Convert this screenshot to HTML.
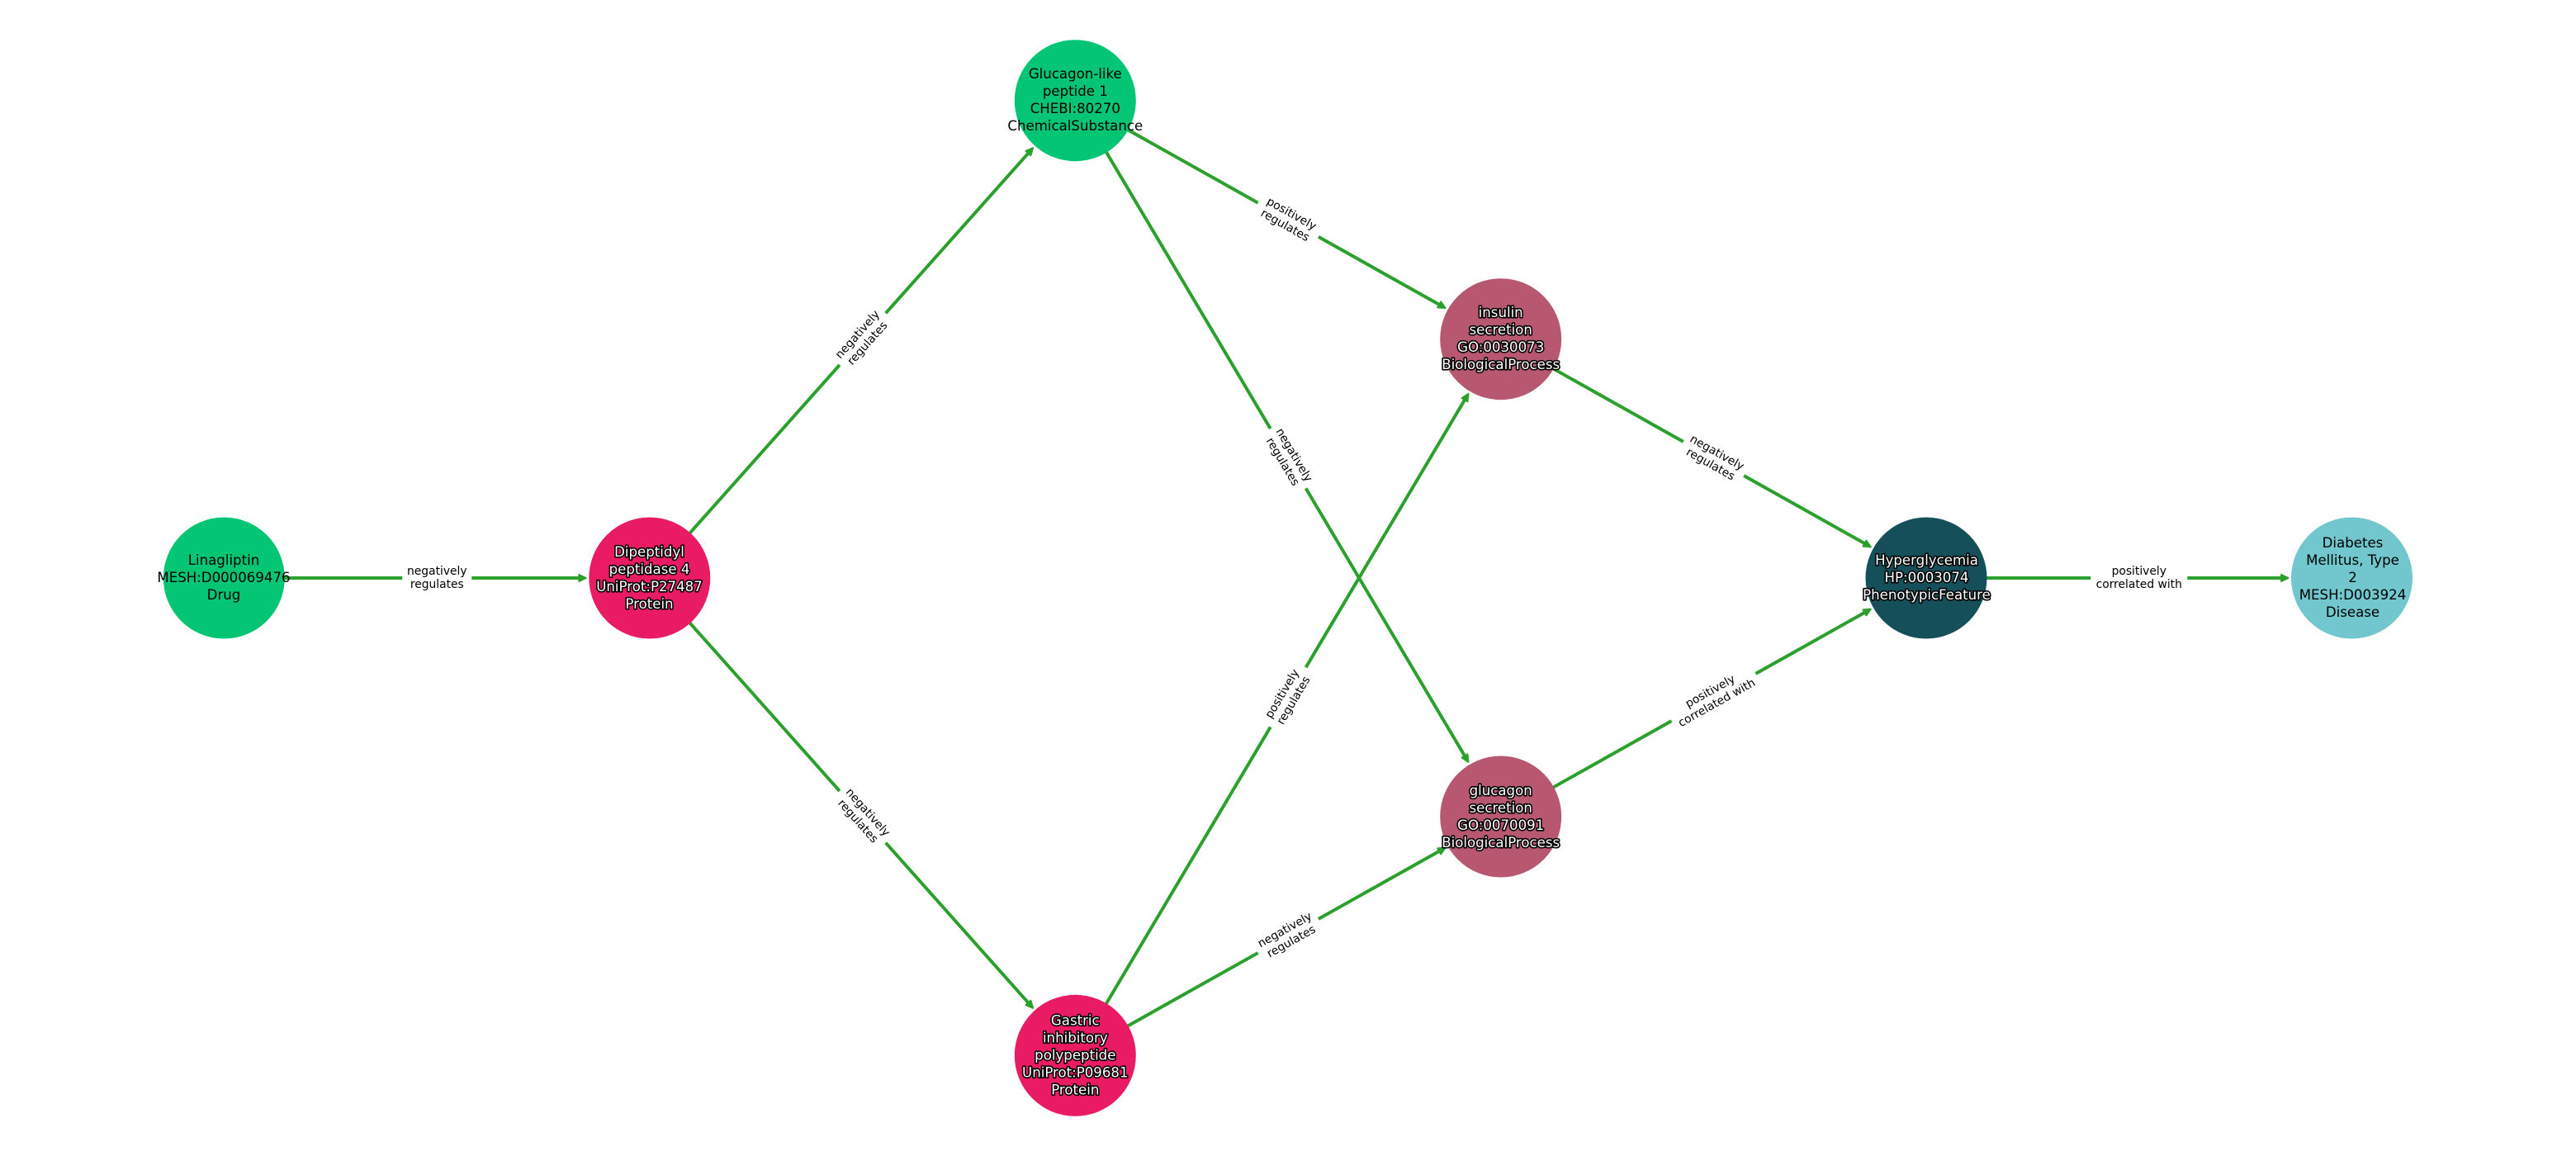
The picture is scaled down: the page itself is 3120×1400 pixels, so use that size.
<!DOCTYPE html>
<html><head><meta charset="utf-8"><title>Linagliptin pathway</title>
<style>
html,body{margin:0;padding:0;background:#fff;width:3120px;height:1400px;overflow:hidden}
svg{display:block}
text{font-family:"DejaVu Sans",sans-serif;text-anchor:middle}
.n{font-size:16.6px;fill:#000}
.h{font-size:16.6px;fill:#fff;stroke:#000;stroke-width:3.2px;stroke-linejoin:round;paint-order:stroke}
.e{font-size:13.85px;fill:#000}
.l{stroke:#2ca02c;stroke-width:4}
.a{fill:#2ca02c;stroke:#2ca02c;stroke-width:2;stroke-linejoin:round}
</style></head><body>
<svg xmlns="http://www.w3.org/2000/svg" width="3120" height="1400" viewBox="0 0 3120 1400">
<rect width="3120" height="1400" fill="#fff"/>
<defs><g id="ah"><polygon class="a" points="-77,0 -85.500,-4 -85.500,4"/></g></defs>

<!-- edges: each group has origin at target centre, source along -x -->
<g transform="translate(786.8,700)"><line class="l" x1="-515" x2="-84"/><use href="#ah"/><rect x="-299.500" y="-18" width="84" height="36" fill="#fff"/><text class="e" x="-257.500" y="-4">negatively</text><text class="e" x="-257.500" y="12">regulates</text></g>

<g transform="translate(1302.3,121.7) rotate(-48.3)"><line class="l" x1="-774" x2="-84"/><use href="#ah"/><rect x="-429" y="-18" width="84" height="36" fill="#fff"/><text class="e" x="-387" y="-4">negatively</text><text class="e" x="-387" y="12">regulates</text></g>

<g transform="translate(1302.3,1278.3) rotate(48.3)"><line class="l" x1="-774" x2="-84"/><use href="#ah"/><rect x="-429" y="-18" width="84" height="36" fill="#fff"/><text class="e" x="-387" y="-4">negatively</text><text class="e" x="-387" y="12">regulates</text></g>

<g transform="translate(1817.7,410.7) rotate(29.3)"><line class="l" x1="-590.500" x2="-84"/><use href="#ah"/><rect x="-337.250" y="-18" width="84" height="36" fill="#fff"/><text class="e" x="-295.250" y="-4">positively</text><text class="e" x="-295.250" y="12">regulates</text></g>

<g transform="translate(1817.7,989) rotate(59.3)"><line class="l" x1="-1008.800" x2="-84"/><use href="#ah"/><rect x="-546.400" y="-18" width="84" height="36" fill="#fff"/><text class="e" x="-504.400" y="-4">negatively</text><text class="e" x="-504.400" y="12">regulates</text></g>

<g transform="translate(1817.7,410.7) rotate(-59.3)"><line class="l" x1="-1008.800" x2="-84"/><use href="#ah"/><rect x="-546.400" y="-18" width="84" height="36" fill="#fff"/><text class="e" x="-504.400" y="-4">positively</text><text class="e" x="-504.400" y="12">regulates</text></g>

<g transform="translate(1817.7,989) rotate(-29.3)"><line class="l" x1="-590.500" x2="-84"/><use href="#ah"/><rect x="-337.250" y="-18" width="84" height="36" fill="#fff"/><text class="e" x="-295.250" y="-4">negatively</text><text class="e" x="-295.250" y="12">regulates</text></g>

<g transform="translate(2333,700) rotate(29.3)"><line class="l" x1="-590.500" x2="-84"/><use href="#ah"/><rect x="-337.250" y="-18" width="84" height="36" fill="#fff"/><text class="e" x="-295.250" y="-4">negatively</text><text class="e" x="-295.250" y="12">regulates</text></g>

<g transform="translate(2333,700) rotate(-29.3)"><line class="l" x1="-590.500" x2="-84"/><use href="#ah"/><rect x="-353.750" y="-18" width="117" height="36" fill="#fff"/><text class="e" x="-295.250" y="-4">positively</text><text class="e" x="-295.250" y="12">correlated with</text></g>

<g transform="translate(2848.5,700)"><line class="l" x1="-515.500" x2="-84"/><use href="#ah"/><rect x="-316.250" y="-18" width="117" height="36" fill="#fff"/><text class="e" x="-257.750" y="-4">positively</text><text class="e" x="-257.750" y="12">correlated with</text></g>

<!-- nodes -->
<circle cx="271.3" cy="700" r="73.5" fill="#03c574"/>
<circle cx="786.8" cy="700" r="73.5" fill="#e91b63"/>
<circle cx="1302.3" cy="121.7" r="73.5" fill="#03c574"/>
<circle cx="1302.3" cy="1278.3" r="73.5" fill="#e91b63"/>
<circle cx="1817.7" cy="410.7" r="73.5" fill="#b85870"/>
<circle cx="1817.7" cy="989" r="73.5" fill="#b85870"/>
<circle cx="2333" cy="700" r="73.5" fill="#15505a"/>
<circle cx="2848.5" cy="700" r="73.5" fill="#72c6cd"/>

<!-- node labels -->
<text class="n" x="271" y="684">Linagliptin</text>
<text class="n" x="271" y="705">MESH:D000069476</text>
<text class="n" x="271" y="726">Drug</text>

<text class="h" x="786.5" y="673.800">Dipeptidyl</text>
<text class="h" x="786.5" y="694.800">peptidase 4</text>
<text class="h" x="786.5" y="715.800">UniProt:P27487</text>
<text class="h" x="786.5" y="736.800">Protein</text>

<text class="n" x="1302.3" y="95.200">Glucagon-like</text>
<text class="n" x="1302.3" y="116.200">peptide 1</text>
<text class="n" x="1302.3" y="137.200">CHEBI:80270</text>
<text class="n" x="1302.3" y="158.200">ChemicalSubstance</text>

<text class="h" x="1302.3" y="1241.300">Gastric</text>
<text class="h" x="1302.3" y="1262.300">inhibitory</text>
<text class="h" x="1302.3" y="1283.300">polypeptide</text>
<text class="h" x="1302.3" y="1304.300">UniProt:P09681</text>
<text class="h" x="1302.3" y="1325.300">Protein</text>

<text class="h" x="1817.7" y="384.200">insulin</text>
<text class="h" x="1817.7" y="405.200">secretion</text>
<text class="h" x="1817.7" y="426.200">GO:0030073</text>
<text class="h" x="1817.7" y="447.200">BiologicalProcess</text>

<text class="h" x="1817.7" y="963">glucagon</text>
<text class="h" x="1817.7" y="984">secretion</text>
<text class="h" x="1817.7" y="1005">GO:0070091</text>
<text class="h" x="1817.7" y="1026">BiologicalProcess</text>

<text class="h" x="2333.500" y="684">Hyperglycemia</text>
<text class="h" x="2333.500" y="705">HP:0003074</text>
<text class="h" x="2333.500" y="726">PhenotypicFeature</text>

<text class="n" x="2849.500" y="663">Diabetes</text>
<text class="n" x="2849.500" y="684">Mellitus, Type</text>
<text class="n" x="2849.500" y="705">2</text>
<text class="n" x="2849.500" y="726">MESH:D003924</text>
<text class="n" x="2849.500" y="747">Disease</text>
</svg>
</body></html>
